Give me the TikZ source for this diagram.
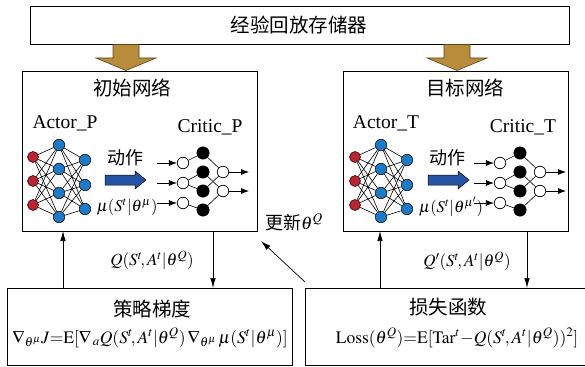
\documentclass[tikz,border=0pt]{standalone}
\usepackage{mathptmx}
\usepackage{fontspec}
\setmainfont{Liberation Serif}
\newfontfamily\cjk{Noto Sans CJK SC}
\usetikzlibrary{arrows.meta}
\definecolor{nred}{RGB}{190,35,48}
\definecolor{nblue}{RGB}{28,122,200}
\definecolor{brownfill}{RGB}{184,140,58}
\definecolor{brownline}{RGB}{90,70,30}
\definecolor{barrow}{RGB}{38,84,165}
\newcommand\cjkT{\cjk\fontsize{19.5}{22}\selectfont}
\newcommand\cjkS{\cjk\fontsize{18}{20}\selectfont}
\newcommand\lat{\fontsize{19.5}{22}\selectfont}
\newcommand\fsz[1]{\fontsize{#1}{#1}\selectfont}
\newcommand\actornet[2]{%
  \foreach \yy [count=\i] in {157,181,205} \node[rn] (#1r\i) at (33+#2,\yy) {};
  \foreach \yy [count=\i] in {145,169,193,217} \node[bn] (#1b\i) at (59+#2,\yy) {};
  \foreach \yy [count=\i] in {160,185,209} \node[bn] (#1c\i) at (85+#2,\yy) {};
  \foreach \i in {1,2,3} {\foreach \j in {1,...,4} {\draw[nn] (#1r\i) -- (#1b\j);}}
  \foreach \i in {1,...,4} {\foreach \j in {1,2,3} {\draw[nn] (#1b\i) -- (#1c\j);}}
}
\newcommand\criticnet[2]{%
  \foreach \yy [count=\i] in {163,183,203} {
    \coordinate (#1s\i) at (157+#2,\yy);
    \node[on] (#1i\i) at (183+#2,\yy) {};
    \draw[carr] (#1s\i) -- (#1i\i);}
  \foreach \yy [count=\i] in {153,172,191,210} \node[kn] (#1h\i) at (203+#2,\yy) {};
  \foreach \yy [count=\i] in {172,191} {
    \node[on] (#1o\i) at (223+#2,\yy) {};
    \coordinate (#1e\i) at (249+#2,\yy);
    \draw[carr] (#1o\i) -- (#1e\i);}
  \draw[nn] (#1i1) -- (#1h1);
  \draw[nn] (#1i2) -- (#1h2);
  \draw[nn] (#1i2) -- (#1h3);
  \draw[nn] (#1i3) -- (#1h4);
  \draw[nn] (#1h1) -- (#1o1);
  \draw[nn] (#1h2) -- (#1o2);
  \draw[nn] (#1h3) -- (#1o1);
  \draw[nn] (#1h4) -- (#1o2);
}
\newcommand\bluearrow[1]{%
  \draw[fill=barrow, draw=black, line width=0.5] (105+#1,175) -- (135+#1,175) -- (135+#1,171) -- (146+#1,180) -- (135+#1,189) -- (135+#1,185) -- (105+#1,185) -- cycle;}
\newcommand\brownarrow[1]{%
  \draw[fill=brownfill, draw=brownline, line width=0.6] (#1-13,44.5) -- (#1+13,44.5) -- (#1+13,58) -- (#1+30,58) -- (#1,70.5) -- (#1-30,58) -- (#1-13,58) -- cycle;}
\begin{document}
\begin{tikzpicture}[x=1pt,y=-1pt,
  box/.style={draw, line width=0.8, inner sep=0, outer sep=0},
  rn/.style={circle, draw=black, line width=0.5, fill=nred, minimum size=11, inner sep=0},
  bn/.style={circle, draw=black, line width=0.5, fill=nblue, minimum size=11.5, inner sep=0},
  on/.style={circle, draw=black, line width=0.7, fill=white, minimum size=11.5, inner sep=0},
  kn/.style={circle, draw=black, fill=black, minimum size=12.5, inner sep=0},
  nn/.style={line width=0.6},
  carr/.style={line width=0.8, -{Latex[length=8pt,width=6pt]}},
  arr/.style={line width=0.7, -{Latex[length=10pt,width=5.5pt]}},
  txt/.style={inner sep=0}]
\useasboundingbox (0,0) rectangle (585,366);
% boxes
\node[box, minimum width=539, minimum height=38] (mem) at (299.5,25) {};
\node[box, minimum width=235, minimum height=160] (init) at (139.5,151) {};
\node[box, minimum width=225, minimum height=160] (targ) at (455.5,151) {};
\node[box, minimum width=285, minimum height=77] (pg) at (149.5,326.5) {};
\node[box, minimum width=290, minimum height=77] (loss) at (450,326.5) {};
% texts
\node[txt] (memt) at (299,25) {\cjkT 经验回放存储器};
\node[txt] (initt) at (132,88) {\cjkT 初始网络};
\node[txt] (targt) at (465,88) {\cjkT 目标网络};
\node[txt] (ap) at (65,123) {\lat Actor\_P};
\node[txt] (cp) at (210,127) {\lat Critic\_P};
\node[txt] (at) at (386,123) {\lat Actor\_T};
\node[txt] (ct) at (523,127) {\lat Critic\_T};
\node[txt] (dz1) at (125,158) {\cjkS 动作};
\node[txt] (dz2) at (447,158) {\cjkS 动作};
\node[txt] (mu1) at (127,207) {\fsz{16.5}$\mu(S^t|\theta^{\mu})$};
\node[txt] (mu2) at (451,207) {\fsz{16.5}$\mu(S^t|\theta^{\mu'})$};
\node[txt] (pgt) at (152,309) {\cjkT 策略梯度};
\node[txt] (losst) at (448,307) {\cjkT 损失函数};
\node[txt] (pgf) at (150,338) {\fsz{17.5}$\nabla_{\theta^{\mu}}J{=}\mathrm{E}[\nabla_{\,a}Q(S^t\!,A^t|\theta^Q)\,\nabla_{\theta^{\mu}}\,\mu(S^t|\theta^{\mu})]$};
\node[txt] (lossf) at (457,338) {\fsz{17.5}$\mathrm{Loss}(\theta^Q){=}\mathrm{E}[\mathrm{Tar}^t{-}Q(S^t\!,A^t|\theta^Q))^2]$};
\node[txt] (q1) at (152,260) {\fsz{17}$Q(S^t\!,A^t|\theta^Q)$};
\node[txt] (q2) at (467,261) {\fsz{17}$Q'(S^t\!,A^t|\theta^Q)$};
\node[txt] (upd) at (294,222) {\cjkS 更新\fsz{18}$\theta^Q$};
% networks
\actornet{L}{0}
\actornet{R}{322}
\criticnet{L}{0}
\criticnet{R}{317}
\bluearrow{0}
\bluearrow{323}
\brownarrow{126}
\brownarrow{457}
% connectors
\coordinate (u1) at (63,0);
\coordinate (d1) at (213,0);
\coordinate (u2) at (380,0);
\coordinate (d2) at (527,0);
\draw[arr] (u1 |- pg.north) -- (u1 |- init.south);
\draw[arr] (d1 |- init.south) -- (d1 |- pg.north);
\draw[arr] (u2 |- loss.north) -- (u2 |- targ.south);
\draw[arr] (d2 |- targ.south) -- (d2 |- loss.north);
\coordinate (dgs) at (305,282);
\coordinate (dge) at (261,241);
\draw[arr] (dgs) -- (dge);
\end{tikzpicture}
\end{document}
